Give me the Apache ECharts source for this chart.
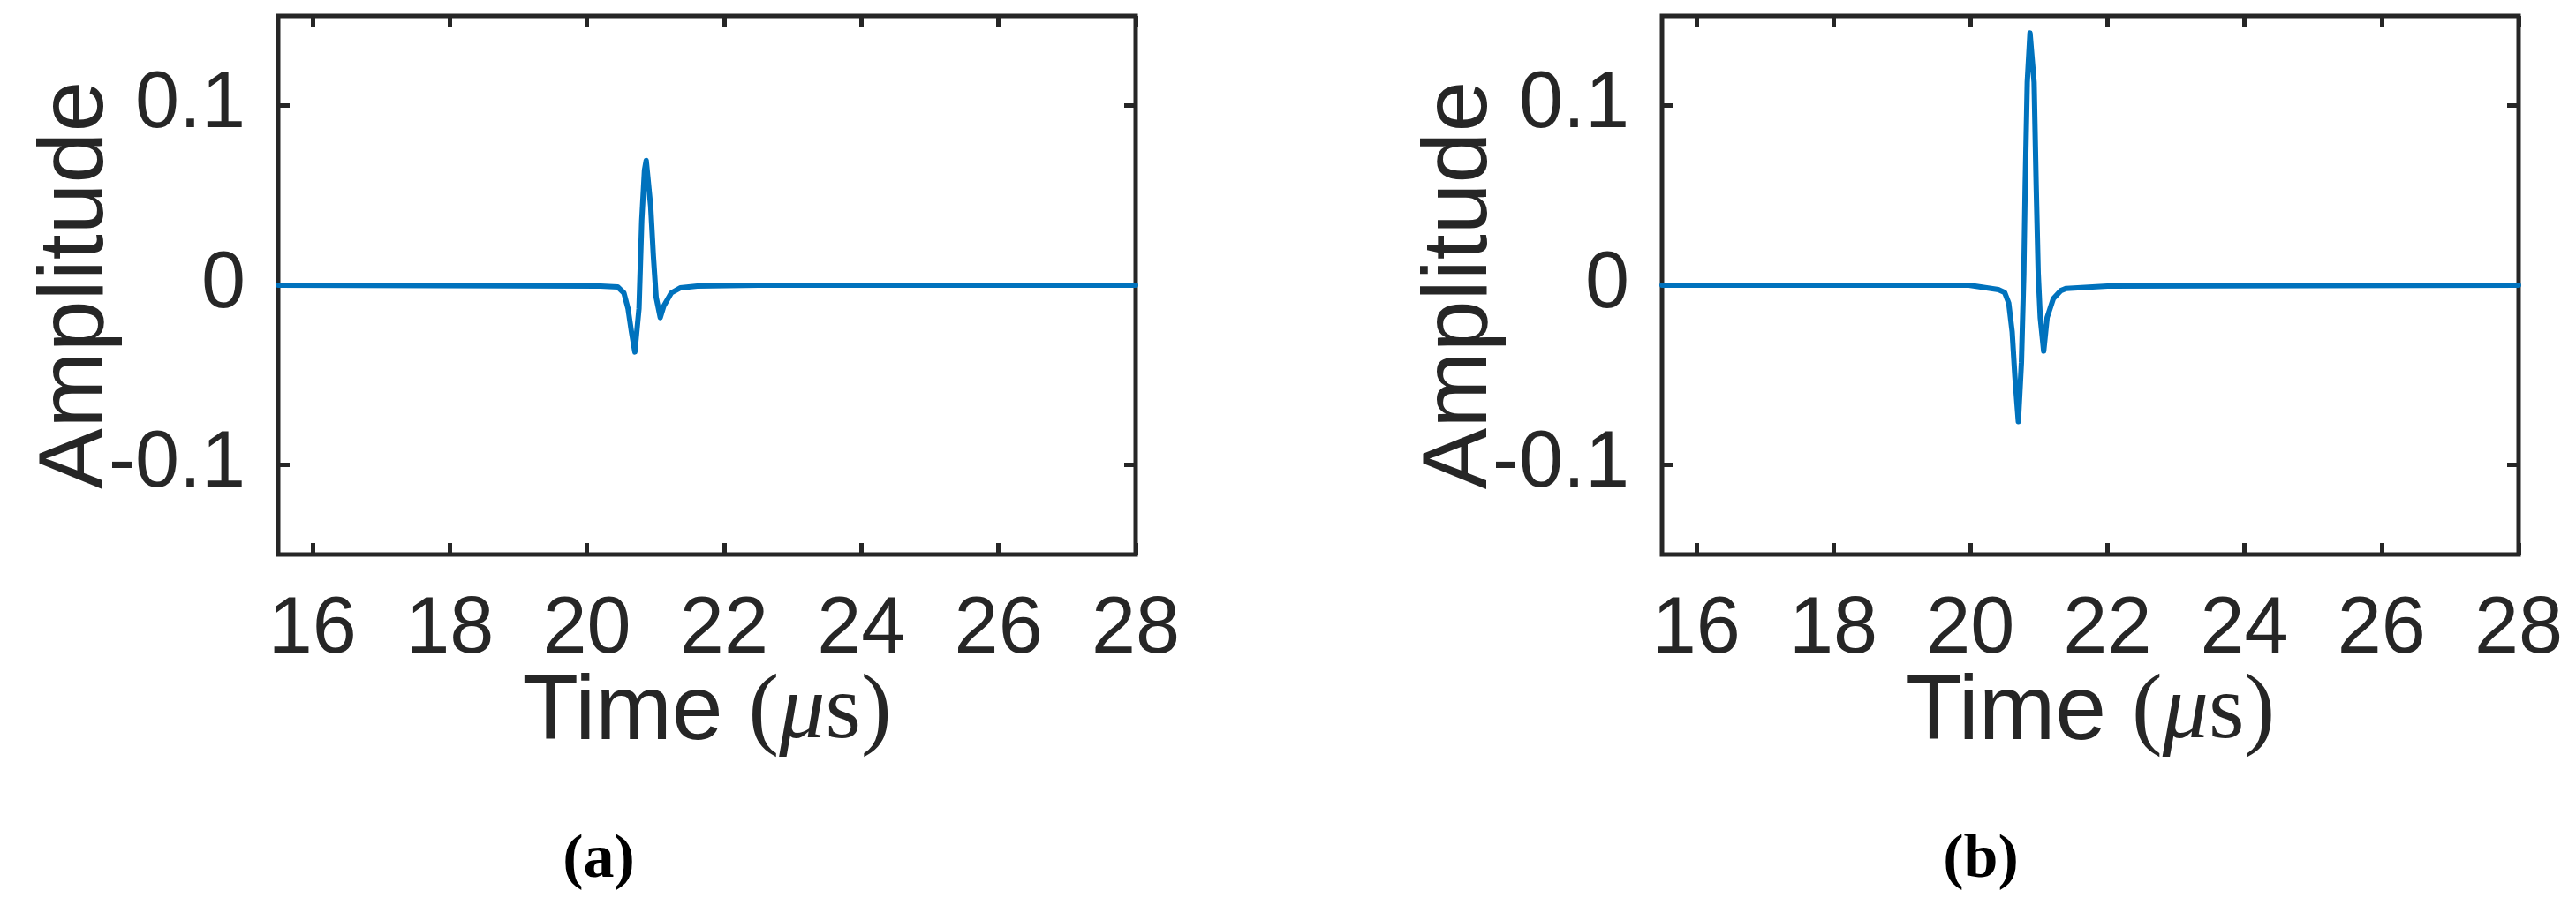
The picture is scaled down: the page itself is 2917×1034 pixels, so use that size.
<!DOCTYPE html>
<html>
<head>
<meta charset="utf-8">
<script src="https://cdn.jsdelivr.net/npm/echarts@6/dist/echarts.min.js"></script>
<style>
html,body{margin:0;padding:0;background:#fff;}
#c{width:2917px;height:1034px;}
</style>
</head>
<body>
<div id="c"></div>
<script>
// ---- data ----
const timeA = [15.5, 20.2, 20.45, 20.54, 20.6, 20.65, 20.7, 20.76, 20.8, 20.84, 20.865, 20.885, 20.93, 20.97, 21.01, 21.07, 21.12, 21.23, 21.36, 21.61, 22.5, 28];
const ampA  = [0, -0.0005, -0.001, -0.0043, -0.013, -0.026, -0.0372, -0.013, 0.036, 0.064, 0.0695, 0.0695, 0.044, 0.016, -0.0067, -0.018, -0.0117, -0.0043, -0.0015, -0.0005, 0, 0];
const timeB = [15.5, 19.98, 20.41, 20.5, 20.56, 20.61, 20.65, 20.70, 20.745, 20.78, 20.80, 20.83, 20.87, 20.89, 20.93, 20.96, 20.99, 21.02, 21.07, 21.12, 21.21, 21.32, 21.4, 22.0, 28];
const ampB  = [0, 0, -0.0025, -0.004, -0.01, -0.026, -0.051, -0.076, -0.043, 0.0064, 0.056, 0.113, 0.1405, 0.1405, 0.113, 0.056, 0.0064, -0.018, -0.0367, -0.018, -0.0075, -0.003, -0.0018, -0.0005, 0];
const xTicks = [16, 18, 20, 22, 24, 26, 28];
const yTicks = [-0.1, 0, 0.1];
const xRange = [15.5, 28];
const yRange = [-0.15, 0.15];
const panelLabels = ['(a)', '(b)'];
const yName = 'Amplitude';

const INK = '#262626';
const SANS = 'Liberation Sans, Arial, Helvetica, sans-serif';
const SERIF = 'Liberation Serif, Times New Roman, serif';
const TICK_FS = 90;
const NAME_FS = 104;

const grids = [
  {left: 315, top: 18, width: 971, height: 610},
  {left: 1882, top: 18, width: 970, height: 610}
];

function xAxes(gi) {
  const tick = {show: true, inside: true, length: 13, customValues: xTicks, lineStyle: {color: INK, width: 5}};
  return [
    {
      gridIndex: gi, type: 'value', position: 'bottom', min: xRange[0], max: xRange[1],
      axisLine: {show: false, onZero: false}, splitLine: {show: false},
      axisTick: tick,
      axisLabel: {customValues: xTicks, fontSize: TICK_FS, fontFamily: SANS, color: INK, margin: 41},
      name: '{a|Time }{b|(}{c|μ}{b|s)}', nameLocation: 'middle', nameGap: 128, nameMoveOverlap: false,
      nameTextStyle: {
        rich: {
          a: {fontSize: NAME_FS, fontFamily: SANS, color: INK},
          b: {fontSize: NAME_FS, fontFamily: SERIF, color: INK},
          c: {fontSize: NAME_FS, fontFamily: SERIF, fontStyle: 'italic', color: INK}
        }
      }
    },
    {
      gridIndex: gi, type: 'value', position: 'top', min: xRange[0], max: xRange[1],
      axisLine: {show: false, onZero: false}, splitLine: {show: false},
      axisTick: tick, axisLabel: {show: false}
    }
  ];
}
function yAxes(gi) {
  const tick = {show: true, inside: true, length: 13, customValues: yTicks, lineStyle: {color: INK, width: 5}};
  return [
    {
      gridIndex: gi, type: 'value', position: 'left', min: yRange[0], max: yRange[1],
      axisLine: {show: false, onZero: false}, splitLine: {show: false},
      axisTick: tick,
      axisLabel: {customValues: yTicks, fontSize: TICK_FS, fontFamily: SANS, color: INK, margin: 37,
        formatter: v => (Math.abs(v) < 1e-9 ? '0' : String(v))},
      name: yName, nameLocation: 'middle', nameGap: 176, nameMoveOverlap: false,
      nameTextStyle: {fontSize: NAME_FS, fontFamily: SANS, color: INK}
    },
    {
      gridIndex: gi, type: 'value', position: 'right', min: yRange[0], max: yRange[1],
      axisLine: {show: false, onZero: false}, splitLine: {show: false},
      axisTick: tick, axisLabel: {show: false}
    }
  ];
}

const chart = echarts.init(document.getElementById('c'), null, {renderer: 'canvas'});
chart.setOption({
  animation: false,
  backgroundColor: '#ffffff',
  grid: grids.map(g => Object.assign({show: true, borderColor: INK, borderWidth: 5, backgroundColor: 'transparent'}, g)),
  xAxis: [...xAxes(0), ...xAxes(1)],
  yAxis: [...yAxes(0), ...yAxes(1)],
  series: [
    {type: 'line', xAxisIndex: 0, yAxisIndex: 0, showSymbol: false, clip: true,
      data: timeA.map((t, i) => [t, ampA[i]]),
      lineStyle: {color: '#0072BD', width: 6, join: 'round', cap: 'round'}},
    {type: 'line', xAxisIndex: 2, yAxisIndex: 2, showSymbol: false, clip: true,
      data: timeB.map((t, i) => [t, ampB[i]]),
      lineStyle: {color: '#0072BD', width: 6, join: 'round', cap: 'round'}}
  ],
  graphic: panelLabels.map((txt, i) => ({
    type: 'text', x: i === 0 ? 678 : 2243, y: 975,
    style: {text: txt, font: 'bold 70px ' + SERIF, fill: '#000', textAlign: 'center', textVerticalAlign: 'middle'}
  }))
});
</script>
</body>
</html>
